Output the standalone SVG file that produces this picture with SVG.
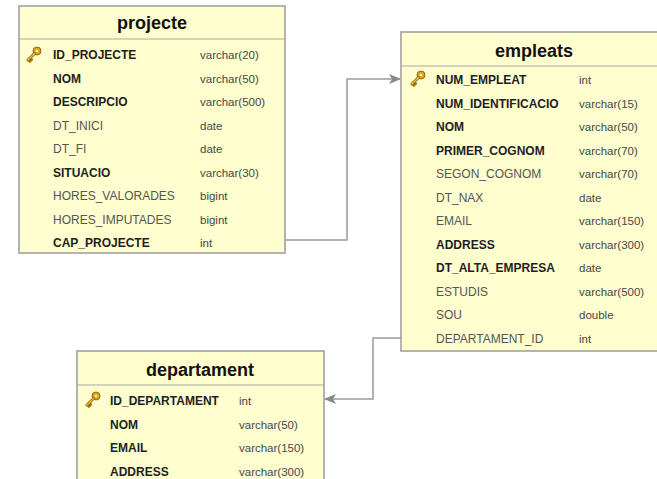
<svg xmlns="http://www.w3.org/2000/svg" width="657" height="479" viewBox="0 0 657 479">
<style>
.box{fill:#fefece;stroke:#9a9a9a;stroke-width:1.5}
.hdr{stroke:#a8a8a8;stroke-width:1}
.title{font-family:"Liberation Sans",Arial,sans-serif;font-size:18px;font-weight:bold;fill:#111;text-anchor:middle}
.b{font-family:"Liberation Sans",Arial,sans-serif;font-size:12px;font-weight:bold;fill:#1e1e1e}
.n{font-family:"Liberation Sans",Arial,sans-serif;font-size:12px;fill:#555}
.t{font-family:"Liberation Sans",Arial,sans-serif;font-size:11.5px;fill:#474747}
.conn{fill:none;stroke:#9a9a9a;stroke-width:1.5}
</style>
<defs>
<marker id="arr" viewBox="0 0 12 10" refX="11" refY="5" markerWidth="12" markerHeight="10" markerUnits="userSpaceOnUse" orient="auto">
<path d="M0,0 L12,5 L0,10 L3,5 Z" fill="#888"/>
</marker>
<g id="key">
<circle cx="5" cy="-5" r="4" fill="#d9a520" stroke="#9a6b10" stroke-width="1"/>
<circle cx="5" cy="-5" r="1.3" fill="#fff3b0"/>
<path d="M2.5,-2.5 L-4,4 M-2,2 L-0.5,3.5 M-3.6,3.6 L-2,5.2" stroke="#9a6b10" stroke-width="3" stroke-linecap="round" fill="none"/>
<path d="M2.5,-2.5 L-4,4" stroke="#e8b830" stroke-width="1.5" stroke-linecap="round" fill="none"/>
</g>
</defs>

<g id="connectors">
<path class="conn" d="M285,240 H347 V79 H400" marker-end="url(#arr)"/>
<path class="conn" d="M401,338 H373 V399 H325" marker-end="url(#arr)"/>
</g>

<g id="projecte">
<rect class="box" x="19" y="6" width="266" height="247"/>
<line class="hdr" x1="19" y1="39" x2="285" y2="39"/>
<text class="title" x="152" y="29">projecte</text>
<use href="#key" x="32" y="56"/>
<text class="b" x="53" y="59">ID_PROJECTE</text><text class="t" x="200" y="59">varchar(20)</text>
<text class="b" x="53" y="82.5">NOM</text><text class="t" x="200" y="82.5">varchar(50)</text>
<text class="b" x="53" y="106">DESCRIPCIO</text><text class="t" x="200" y="106">varchar(500)</text>
<text class="n" x="53" y="129.5">DT_INICI</text><text class="t" x="200" y="129.5">date</text>
<text class="n" x="53" y="153">DT_FI</text><text class="t" x="200" y="153">date</text>
<text class="b" x="53" y="176.5">SITUACIO</text><text class="t" x="200" y="176.5">varchar(30)</text>
<text class="n" x="53" y="200">HORES_VALORADES</text><text class="t" x="200" y="200">bigint</text>
<text class="n" x="53" y="223.5">HORES_IMPUTADES</text><text class="t" x="200" y="223.5">bigint</text>
<text class="b" x="53" y="247">CAP_PROJECTE</text><text class="t" x="200" y="247">int</text>
</g>

<g id="empleats">
<rect class="box" x="401" y="32" width="262" height="319"/>
<line class="hdr" x1="401" y1="66" x2="657" y2="66"/>
<text class="title" x="534" y="57">empleats</text>
<use href="#key" x="416" y="80"/>
<text class="b" x="436" y="84">NUM_EMPLEAT</text><text class="t" x="579" y="84">int</text>
<text class="b" x="436" y="107.5">NUM_IDENTIFICACIO</text><text class="t" x="579" y="107.5">varchar(15)</text>
<text class="b" x="436" y="131">NOM</text><text class="t" x="579" y="131">varchar(50)</text>
<text class="b" x="436" y="154.5">PRIMER_COGNOM</text><text class="t" x="579" y="154.5">varchar(70)</text>
<text class="n" x="436" y="178">SEGON_COGNOM</text><text class="t" x="579" y="178">varchar(70)</text>
<text class="n" x="436" y="201.5">DT_NAX</text><text class="t" x="579" y="201.5">date</text>
<text class="n" x="436" y="225">EMAIL</text><text class="t" x="579" y="225">varchar(150)</text>
<text class="b" x="436" y="248.5">ADDRESS</text><text class="t" x="579" y="248.5">varchar(300)</text>
<text class="b" x="436" y="272">DT_ALTA_EMPRESA</text><text class="t" x="579" y="272">date</text>
<text class="n" x="436" y="295.5">ESTUDIS</text><text class="t" x="579" y="295.5">varchar(500)</text>
<text class="n" x="436" y="319">SOU</text><text class="t" x="579" y="319">double</text>
<text class="n" x="436" y="342.5">DEPARTAMENT_ID</text><text class="t" x="579" y="342.5">int</text>
</g>

<g id="departament">
<rect class="box" x="77" y="351" width="247" height="140"/>
<line class="hdr" x1="77" y1="385" x2="324" y2="385"/>
<text class="title" x="200" y="376">departament</text>
<use href="#key" x="91" y="401"/>
<text class="b" x="110" y="405">ID_DEPARTAMENT</text><text class="t" x="239" y="405">int</text>
<text class="b" x="110" y="428.5">NOM</text><text class="t" x="239" y="428.5">varchar(50)</text>
<text class="b" x="110" y="452">EMAIL</text><text class="t" x="239" y="452">varchar(150)</text>
<text class="b" x="110" y="475.5">ADDRESS</text><text class="t" x="239" y="475.5">varchar(300)</text>
</g>
</svg>
